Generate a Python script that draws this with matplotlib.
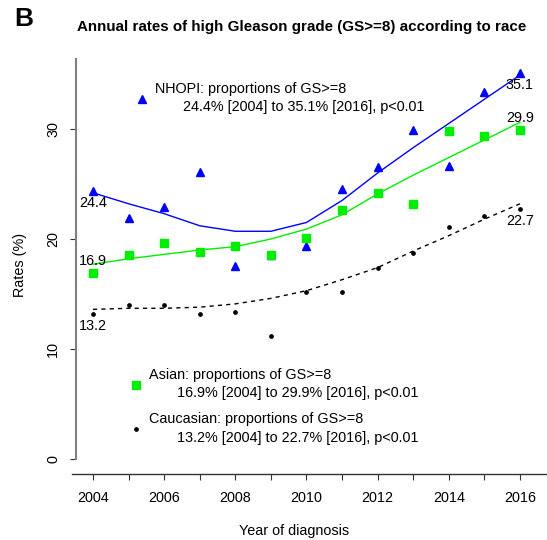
import matplotlib
matplotlib.use('Agg')
import matplotlib.pyplot as plt
from matplotlib.lines import Line2D

plt.rcParams['font.family'] = ['Liberation Sans', 'DejaVu Sans']

years = [2004, 2005, 2006, 2007, 2008, 2009, 2010, 2011, 2012, 2013, 2014, 2015, 2016]

# observed rates (%)
nhopi = [24.4, 21.9, 22.9, 26.1, 17.5, 18.5, 19.4, 24.5, 26.5, 29.9, 26.6, 33.4, 35.1]
asian = [16.9, 18.5, 19.6, 18.8, 19.4, 18.5, 20.1, 22.6, 24.2, 23.2, 29.8, 29.4, 29.9]
caucasian = [13.2, 14.0, 14.0, 13.2, 13.4, 11.2, 15.2, 15.2, 17.4, 18.7, 21.1, 22.1, 22.7]

# fitted trend lines
nhopi_fit = [24.2, 23.2, 22.3, 21.2, 20.7, 20.7, 21.5, 23.5, 26.0, 28.3, 30.5, 32.7, 34.9]
asian_fit = [17.7, 18.2, 18.6, 19.0, 19.3, 20.0, 20.9, 22.2, 24.1, 25.8, 27.4, 29.0, 30.6]
cauc_fit = [13.6, 13.7, 13.7, 13.8, 14.1, 14.6, 15.3, 16.3, 17.4, 18.9, 20.3, 21.8, 23.2]

blue = '#0000FF'
green = '#00EE00'
tri_ms, sq_ms, dot_ms = 6.3, 5.2, 2.4

fig = plt.figure(figsize=(5.47, 5.40), dpi=100)
ax = fig.add_axes([72/547, 66/540, 475/547, 415/540])
ax.set_xlim(2003.41, 2016.76)
ax.set_ylim(-1.364, 36.36)

ax.plot(years, nhopi_fit, color=blue, lw=1)
ax.plot(years, asian_fit, color=green, lw=1)
ax.plot(years, cauc_fit, color='black', lw=1, ls=(0, (3, 3)))

ax.plot(years, nhopi, ls='none', marker='^', ms=tri_ms, color=blue)
ax.plot(years, asian, ls='none', marker='s', ms=sq_ms, color=green)
ax.plot(years, caucasian, ls='none', marker='o', ms=dot_ms, color='black')

# start / end labels
fs = 10.4
def lab(x, y, below):
    off = -12 if below else 12
    ax.annotate('%.1f' % y, (x, y), xytext=(0, off * 0.72), textcoords='offset points',
                ha='center', va='center', fontsize=fs)

lab(years[0], nhopi[0], True)
lab(years[-1], nhopi[-1], True)
lab(years[0], asian[0], False)
lab(years[-1], asian[-1], False)
lab(years[0], caucasian[0], True)
lab(years[-1], caucasian[-1], True)

# legends
h1 = [Line2D([], [], ls='none', marker='^', ms=tri_ms, color=blue)]
l1 = ['NHOPI: proportions of GS>=8\n       24.4% [2004] to 35.1% [2016], p<0.01']
leg1 = ax.legend(h1, l1, loc='upper left', bbox_to_anchor=(135/547, 1-82/540),
                 bbox_transform=fig.transFigure, frameon=False, fontsize=fs,
                 handlelength=1.0, handletextpad=0.4, borderpad=0, borderaxespad=0)
for t in leg1.get_texts():
    t.set_linespacing(1.38)
ax.add_artist(leg1)

h2 = [Line2D([], [], ls='none', marker='s', ms=sq_ms, color=green),
      Line2D([], [], ls='none', marker='o', ms=dot_ms, color='black')]
l2 = ['Asian: proportions of GS>=8\n       16.9% [2004] to 29.9% [2016], p<0.01',
      'Caucasian: proportions of GS>=8\n       13.2% [2004] to 22.7% [2016], p<0.01']
leg2 = ax.legend(h2, l2, loc='upper left', bbox_to_anchor=(129/547, 1-368/540),
                 bbox_transform=fig.transFigure, frameon=False, fontsize=fs,
                 handlelength=1.0, handletextpad=0.4, borderpad=0, borderaxespad=0,
                 labelspacing=0.85)
for t in leg2.get_texts():
    t.set_linespacing(1.38)

# axes styling (R look)
for s in ['top', 'right']:
    ax.spines[s].set_visible(False)
ax.spines['left'].set_position(('axes', 4/475))
ax.spines['left'].set_bounds(0, 36.36)
ax.spines['left'].set_color('#808080')
ax.spines['left'].set_linewidth(1.5)
ax.spines['bottom'].set_color('#333333')
ax.spines['bottom'].set_linewidth(1)

ax.set_xticks(years)
ax.set_xticklabels([str(y) if y % 2 == 0 else '' for y in years], fontsize=fs)
ax.set_yticks([0, 10, 20, 30])
ax.set_yticklabels(['0', '10', '20', '30'], fontsize=fs, rotation=90, va='center')
ax.tick_params(axis='x', length=4.3, width=0.8, pad=8, color='#333333')
ax.tick_params(axis='y', length=4.3, width=0.8, pad=7, color='#333333')

fig.text(20/547, 1-265/540, 'Rates (%)', rotation=90, ha='center', va='center', fontsize=fs)
fig.text(294/547, 1-531/540, 'Year of diagnosis', ha='center', va='center', fontsize=fs)
fig.text(302/547, 1-27/540, 'Annual rates of high Gleason grade (GS>=8) according to race',
         ha='center', va='center', fontsize=10.9, fontweight='bold')
fig.text(24/547, 1-19/540, 'B', ha='center', va='center', fontsize=19, fontweight='bold')

fig.savefig('out.png', dpi=100)
